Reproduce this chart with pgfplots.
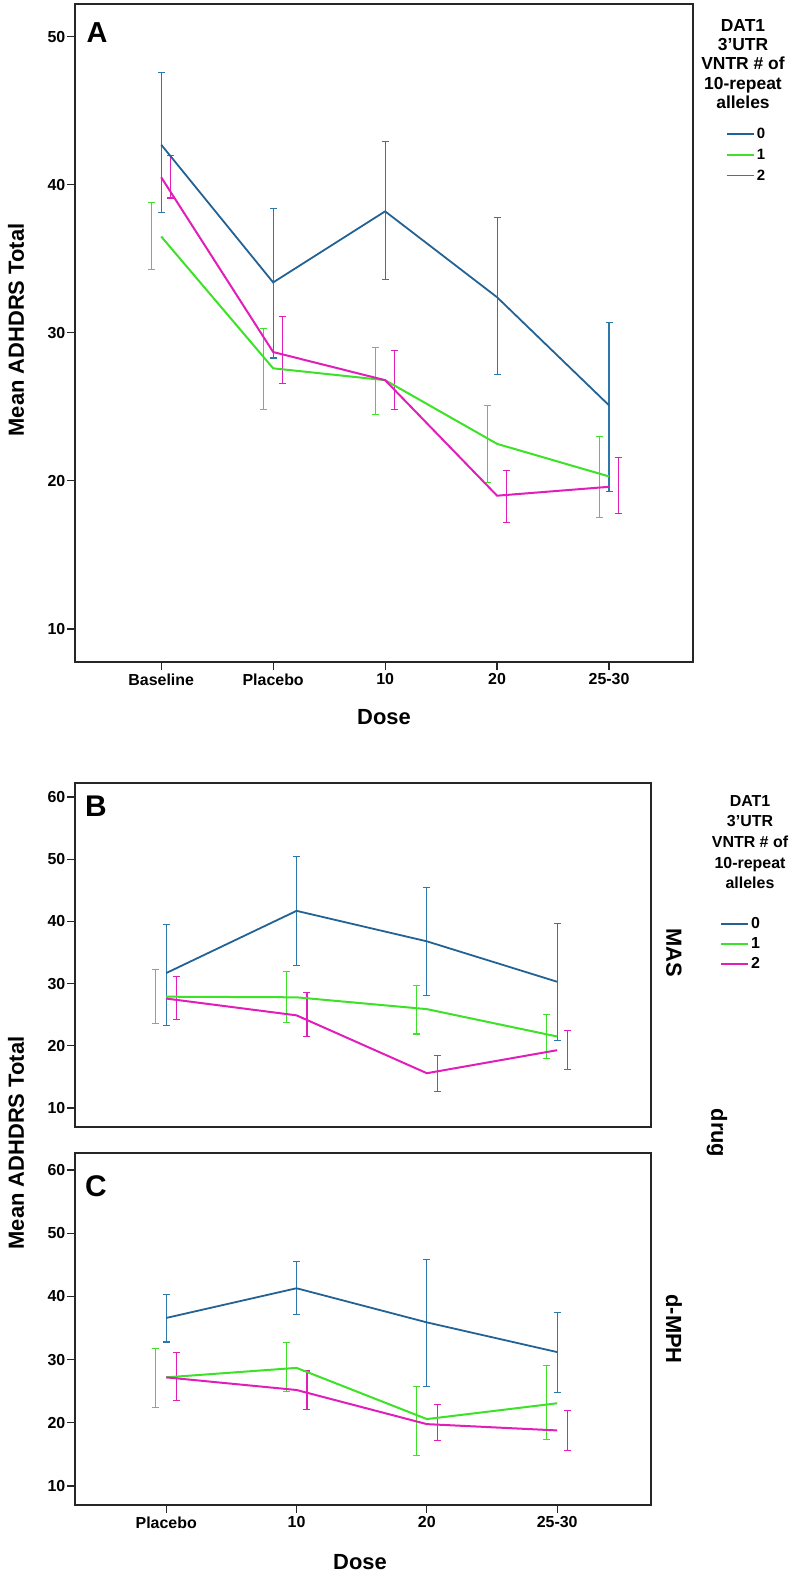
\documentclass[border=0pt]{standalone}
\usepackage{fontspec}
\setmainfont{Liberation Sans}
\usepackage{pgfplots}
\usepackage{pgfplotstable}
\pgfplotsset{compat=1.18}
\definecolor{cblue}{RGB}{35,98,148}
\definecolor{cbluebar}{RGB}{45,120,170}
\definecolor{cgreen}{RGB}{60,225,40}
\definecolor{cmag}{RGB}{225,30,185}

% Panel A
\pgfplotstableread{
x y lo hi
0 42.7 38.1 47.6
1 33.4 28.3 38.4
2 38.2 33.6 42.9
3 32.4 27.2 37.8
4 25.1 19.3 30.7
}\blueA
\pgfplotstableread{
x y lo hi
0 36.5 34.3 38.8
1 27.6 24.8 30.3
2 26.8 24.5 29.0
3 22.5 19.9 25.1
4 20.3 17.5 23.0
}\greenA
\pgfplotstableread{
x y lo hi
0 40.5 39.1 42.0
1 28.7 26.6 31.1
2 26.8 24.8 28.8
3 19.0 17.2 20.7
4 19.6 17.8 21.6
}\magA
% Panel B (MAS)
\pgfplotstableread{
x y lo hi
0 31.7 23.2 39.5
1 41.7 32.9 50.5
2 36.8 28.1 45.5
3 30.3 20.9 39.6
}\blueB
\pgfplotstableread{
x y lo hi
0 27.9 23.6 32.3
1 27.8 23.8 32.0
2 25.9 21.9 29.7
3 21.5 17.9 25.1
}\greenB
\pgfplotstableread{
x y lo hi
0 27.6 24.3 31.1
1 24.9 21.5 28.6
2 15.6 12.6 18.5
3 19.3 16.2 22.4
}\magB
% Panel C (d-MPH)
\pgfplotstableread{
x y lo hi
0 36.6 32.8 40.3
1 41.3 37.2 45.6
2 35.9 25.8 45.9
3 31.2 24.8 37.5
}\blueC
\pgfplotstableread{
x y lo hi
0 27.2 22.4 31.8
1 28.7 25.0 32.7
2 20.6 14.8 25.8
3 23.1 17.3 29.1
}\greenC
\pgfplotstableread{
x y lo hi
0 27.2 23.5 31.2
1 25.2 22.1 28.2
2 19.8 17.2 22.9
3 18.8 15.6 21.9
}\magC

\newcommand{\ebar}[3]{%
\addplot[#1, draw=none, mark=none, forget plot,
  error bars/.cd, y dir=both, y explicit,
  error bar style={draw=#1, line width=1.1bp},
  error mark=-,
  error mark options={draw=#1, line width=1.1bp, mark size=3.5bp, rotate=90}]
  table[x expr=\thisrow{x}+(#2), y=y,
        y error plus expr=\thisrow{hi}-\thisrow{y},
        y error minus expr=\thisrow{y}-\thisrow{lo}] {#3};}

\pgfplotsset{
  panel/.style={
    scale only axis,
    axis line style={line width=1.6bp, black!85},
    tick style={line width=1.2bp, black!85},
    tick align=outside,
    major tick length=8bp,
    xtick pos=bottom, ytick pos=left,
    /pgf/number format/assume math mode=true,
    tick label style={font=\fontsize{16}{16}\selectfont\bfseries},
    yticklabel style={inner sep=1.5bp},
    clip=false,
    legend cell align=left,
    legend image code/.code={\draw[##1, line width=1.8bp] (0bp,0bp) -- (27bp,0bp);},
  }
}

\begin{document}
\begin{tikzpicture}
\useasboundingbox (0,0) rectangle (792bp,-1576bp);

% ---------------- Panel A ----------------
\begin{axis}[panel,
  at={(75bp,-662bp)}, anchor=south west,
  width=618bp, height=658bp,
  xmin=-0.77, xmax=4.75, ymin=7.77, ymax=52.2,
  xtick={0,1,2,3,4}, xticklabels={Baseline,Placebo,10,20,25-30},
  ytick={10,20,30,40,50},
  legend style={at={(axis description cs:1.053,0.815)}, anchor=north west,
    draw=none, fill=none, font=\fontsize{15}{15}\selectfont\bfseries,
    row sep=5bp, inner sep=0pt},
]
\ebar{cbluebar}{0}{\blueA}
\ebar{cgreen}{-0.085}{\greenA}
\ebar{cmag}{0.085}{\magA}
\addplot[cblue, line width=1.8bp] table[x=x,y=y] {\blueA};
\addlegendentry{0}
\addplot[cgreen, line width=2bp] table[x=x,y=y] {\greenA};
\addlegendentry{1}
\addplot[cmag, line width=2bp] table[x=x,y=y] {\magA};
\addlegendentry{2}
\end{axis}

% ---------------- Panel B ----------------
\begin{axis}[panel,
  at={(75bp,-1127bp)}, anchor=south west,
  width=576bp, height=344bp,
  xmin=-0.70, xmax=3.72, ymin=6.95, ymax=62.25,
  xtick=\empty,
  ytick={10,20,30,40,50,60},
  legend style={at={(axis description cs:1.12,0.615)}, anchor=north west,
    draw=none, fill=none, font=\fontsize{16}{16}\selectfont\bfseries,
    row sep=3.5bp, inner sep=0pt},
]
\ebar{cbluebar}{0}{\blueB}
\ebar{cgreen}{-0.08}{\greenB}
\ebar{cmag}{0.08}{\magB}
\addplot[cblue, line width=1.8bp] table[x=x,y=y] {\blueB};
\addlegendentry{0}
\addplot[cgreen, line width=2bp] table[x=x,y=y] {\greenB};
\addlegendentry{1}
\addplot[cmag, line width=2bp] table[x=x,y=y] {\magB};
\addlegendentry{2}
\end{axis}

% ---------------- Panel C ----------------
\begin{axis}[panel,
  at={(75bp,-1505bp)}, anchor=south west,
  width=576bp, height=352bp,
  xmin=-0.70, xmax=3.72, ymin=7.0, ymax=62.7,
  xtick={0,1,2,3}, xticklabels={Placebo,10,20,25-30},
  ytick={10,20,30,40,50,60},
]
\ebar{cbluebar}{0}{\blueC}
\ebar{cgreen}{-0.08}{\greenC}
\ebar{cmag}{0.08}{\magC}
\addplot[cblue, line width=1.8bp] table[x=x,y=y] {\blueC};
\addplot[cgreen, line width=2bp] table[x=x,y=y] {\greenC};
\addplot[cmag, line width=2bp] table[x=x,y=y] {\magC};
\end{axis}

% ---------------- Text ----------------
\node[font=\fontsize{29}{29}\selectfont\bfseries] at (97bp,-33bp) {A};
\node[font=\fontsize{30}{30}\selectfont\bfseries] at (96bp,-806bp) {B};
\node[font=\fontsize{30}{30}\selectfont\bfseries] at (96bp,-1186bp) {C};

\node[rotate=90, font=\fontsize{22}{22}\selectfont\bfseries] at (16bp,-330bp) {Mean ADHDRS Total};
\node[rotate=90, font=\fontsize{22}{22}\selectfont\bfseries] at (16bp,-1143bp) {Mean ADHDRS Total};
\node[font=\fontsize{22}{22}\selectfont\bfseries] at (384bp,-717bp) {Dose};
\node[font=\fontsize{22}{22}\selectfont\bfseries] at (360bp,-1562bp) {Dose};

\node[rotate=-90, font=\fontsize{22}{22}\selectfont\bfseries] at (674bp,-953bp) {MAS};
\node[rotate=-90, font=\fontsize{22}{22}\selectfont\bfseries] at (674bp,-1329bp) {d-MPH};
\node[rotate=-90, font=\fontsize{22}{22}\selectfont\bfseries] at (717bp,-1133bp) {drug};

\node[align=center, font=\fontsize{17.5}{19.5}\selectfont\bfseries] at (743bp,-64bp)
  {DAT1\\3'UTR\\VNTR \# of\\10-repeat\\alleles};
\node[align=center, font=\fontsize{16}{20.7}\selectfont\bfseries] at (750bp,-842bp)
  {DAT1\\3'UTR\\VNTR \# of\\10-repeat\\alleles};
\end{tikzpicture}
\end{document}
